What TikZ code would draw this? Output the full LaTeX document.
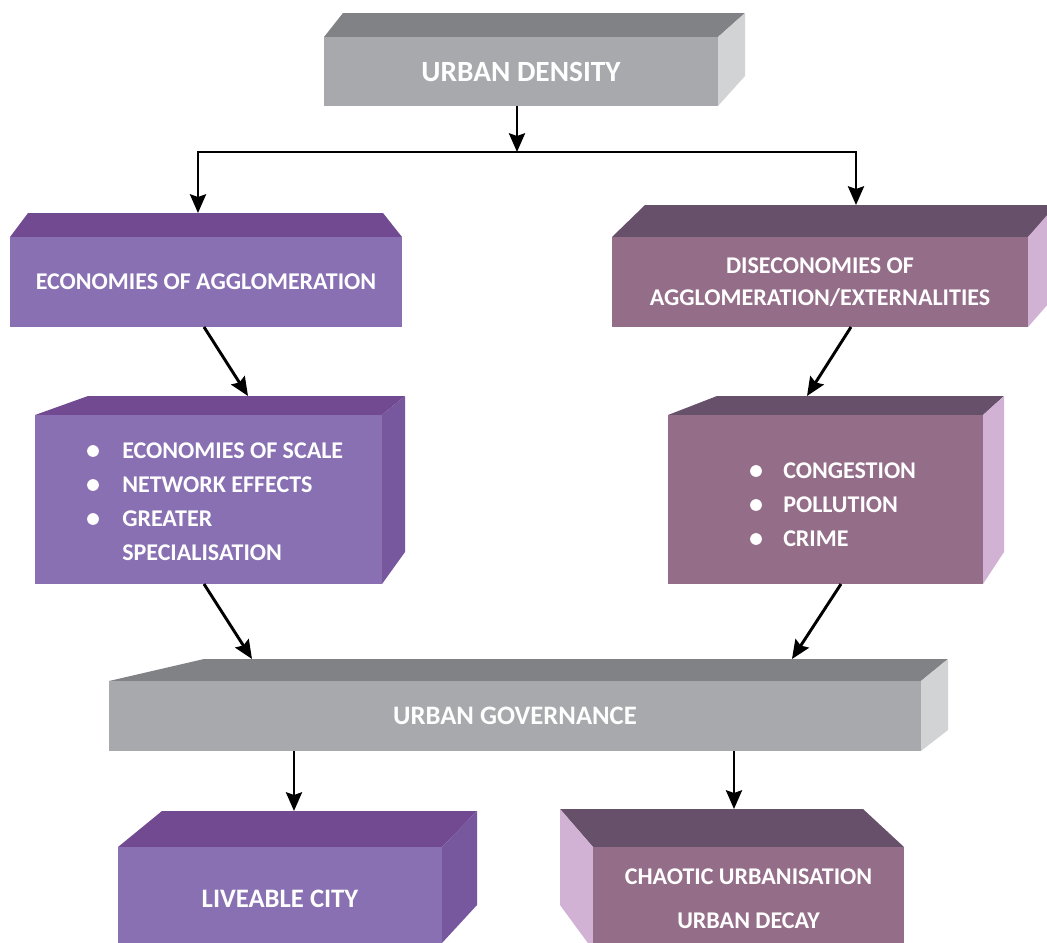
\documentclass[tikz,border=0pt]{standalone}
\usepackage{fontspec}
\setmainfont{Carlito}
\usetikzlibrary{arrows.meta}

\definecolor{greyFront}{HTML}{A7A9AC}
\definecolor{greyTop}{HTML}{808285}
\definecolor{greySide}{HTML}{D1D3D4}
\definecolor{violetFront}{HTML}{8870B2}
\definecolor{violetTop}{HTML}{714A91}
\definecolor{violetSide}{HTML}{77579E}
\definecolor{mauveFront}{HTML}{946D89}
\definecolor{mauveTop}{HTML}{67506A}
\definecolor{mauveSide}{HTML}{D2B2D4}

\begin{document}
\begin{tikzpicture}[x=0.75pt,y=0.75pt,yscale=-1,xscale=1,
    face/.style 2 args={minimum width=#1*0.75pt, minimum height=#2*0.75pt, inner sep=0pt, text=white, align=center, font=\bfseries\fontsize{18}{24}\selectfont},
    listtext/.style={inner sep=0pt, text=white, align=left, font=\bfseries\fontsize{18}{25.5}\selectfont},
    arrow/.style={line width=2.2pt, -{Stealth[length=14pt,width=12pt,inset=2pt]}}]
    \useasboundingbox (0,0) rectangle (1047,943);

    %Shape: Box (urban density)
    \fill [greyTop] (324,37) -- (343,13) -- (745,13) -- (718,37) -- cycle ;
    \fill [greySide] (718,37) -- (745,13) -- (745,76) -- (718,106) -- cycle ;
    \node [face={394}{69}, fill=greyFront, font=\bfseries\fontsize{22}{26}\selectfont] (den) at (521,71.5) {URBAN DENSITY};

    %Shape: Box (economies)
    \fill [violetTop] (10,237) -- (28,213) -- (383,213) -- (402,237) -- cycle ;
    \node [face={392}{90}, fill=violetFront] (agg) at (206,282) {ECONOMIES OF AGGLOMERATION};

    %Shape: Box (diseconomies)
    \fill [mauveTop] (612,237) -- (645,205) -- (1060,205) -- (1028,237) -- cycle ;
    \fill [mauveSide] (1028,237) -- (1056,205) -- (1056,295) -- (1028,327) -- cycle ;
    \node [face={416}{90}, fill=mauveFront] (dis) at (820,282) {DISECONOMIES OF\\AGGLOMERATION/EXTERNALITIES};

    %Shape: Box (scale effects)
    \fill [violetTop] (35,415) -- (88,396) -- (405,396) -- (382,415) -- cycle ;
    \fill [violetSide] (382,415) -- (405,396) -- (405,552) -- (382,584) -- cycle ;
    \node [face={347}{169}, fill=violetFront] (scl) at (208.5,499.5) {};
    % bullets
    \foreach \y in {451,485,519} \fill [white] (93,\y) circle (4.4pt) ;
    % Text Node
    \node [listtext, anchor=west] (scl-list) at (122,502) {ECONOMIES OF SCALE\\NETWORK EFFECTS\\GREATER\\SPECIALISATION};

    %Shape: Box (externalities)
    \fill [mauveTop] (668,415) -- (717,396) -- (1004,396) -- (983,415) -- cycle ;
    \fill [mauveSide] (983,415) -- (1004,396) -- (1004,552) -- (983,584) -- cycle ;
    \node [face={315}{169}, fill=mauveFront] (cng) at (825.5,499.5) {};
    % bullets
    \foreach \y in {471,505,539} \fill [white] (756,\y) circle (4.4pt) ;
    % Text Node
    \node [listtext, anchor=west] (cng-list) at (783,505) {CONGESTION\\POLLUTION\\CRIME};

    %Shape: Box (urban governance)
    \fill [greyTop] (109,681) -- (204,659) -- (948,659) -- (921,681) -- cycle ;
    \fill [greySide] (921,681) -- (948,659) -- (948,730) -- (921,751) -- cycle ;
    \node [face={812}{70}, fill=greyFront, font=\bfseries\fontsize{20}{24}\selectfont] (gov) at (515,716) {URBAN GOVERNANCE};

    %Shape: Box (liveable city)
    \fill [violetTop] (118,847) -- (162,811) -- (477,811) -- (442,847) -- cycle ;
    \fill [violetSide] (442,847) -- (477,811) -- (477,905) -- (442,943) -- cycle ;
    \node [face={324}{103}, fill=violetFront, font=\bfseries\fontsize{20}{24}\selectfont] (liv) at (280,898.5) {LIVEABLE CITY};

    %Shape: Box (chaotic urbanisation)
    \fill [mauveTop] (593,847) -- (560,809) -- (863,809) -- (904,847) -- cycle ;
    \fill [mauveSide] (560,809) -- (593,847) -- (593,950) -- (560,905) -- cycle ;
    \node [face={311}{103}, fill=mauveFront, font=\bfseries\fontsize{18}{33}\selectfont] (cha) at (748.5,898.5) {CHAOTIC URBANISATION\\URBAN DECAY};

    % arrow ends
    \coordinate (hub) at (517,152) ;
    \coordinate (agg-in) at (198,213) ;
    \coordinate (dis-in) at (856,205) ;
    \coordinate (agg-out) at (204,327) ;
    \coordinate (scl-in) at (248,396) ;
    \coordinate (dis-out) at (851,327) ;
    \coordinate (cng-in) at (807,396) ;
    \coordinate (scl-out) at (204,584) ;
    \coordinate (cng-out) at (841,584) ;
    \coordinate (gov-in-l) at (252,659) ;
    \coordinate (gov-in-r) at (792,659) ;
    \coordinate (liv-in) at (294,811) ;
    \coordinate (cha-in) at (734,809) ;

    %Straight Lines with arrows
    \draw [arrow] (den.south -| hub) -- (hub) ;
    \draw [arrow] (hub) -| (agg-in) ;
    \draw [arrow] (hub) -| (dis-in) ;
    \draw [arrow] (agg-out) -- (scl-in) ;
    \draw [arrow] (dis-out) -- (cng-in) ;
    \draw [arrow] (scl-out) -- (gov-in-l) ;
    \draw [arrow] (cng-out) -- (gov-in-r) ;
    \draw [arrow] (gov.south -| liv-in) -- (liv-in) ;
    \draw [arrow] (gov.south -| cha-in) -- (cha-in) ;
\end{tikzpicture}
\end{document}
